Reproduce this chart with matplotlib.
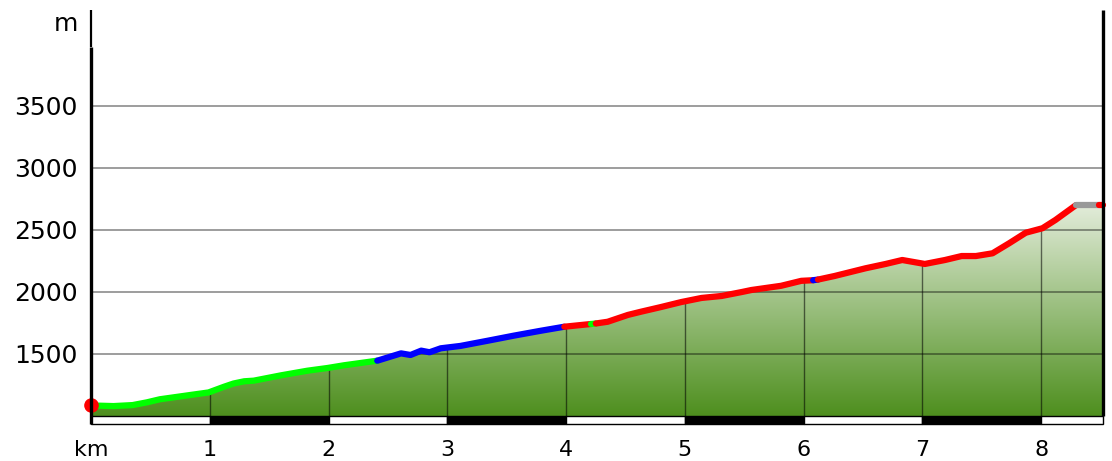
import numpy as np
import matplotlib
matplotlib.use("Agg")
import matplotlib.pyplot as plt
from matplotlib.transforms import blended_transform_factory

# ---- data ----
km = [0, 0.19, 0.35, 0.47, 0.58, 0.84, 0.99, 1.12, 1.20, 1.29, 1.37, 1.60, 1.82, 1.99, 2.13, 2.41,
      2.61, 2.69, 2.78, 2.85, 2.945, 3.11, 3.34, 3.56, 3.79, 3.985,
      4.21, 4.25, 4.35, 4.52, 4.63, 4.80, 4.97, 5.14, 5.31, 5.48, 5.56, 5.81, 5.98, 6.08, 6.12,
      6.26, 6.52, 6.69, 6.83, 7.02, 7.19, 7.33, 7.45, 7.59, 7.73, 7.87, 8.01, 8.12, 8.29, 8.49, 8.52]
elev = [1085, 1080, 1088, 1110, 1135, 1170, 1190, 1236, 1262, 1280, 1285, 1328, 1365, 1387, 1409, 1446,
        1505, 1492, 1527, 1514, 1546, 1565, 1607, 1648, 1688, 1720,
        1742, 1746, 1760, 1815, 1841, 1879, 1919, 1952, 1968, 2000, 2016, 2050, 2090, 2095, 2100,
        2129, 2191, 2226, 2258, 2226, 2258, 2290, 2290, 2312, 2393, 2478, 2514, 2581, 2699, 2699, 2699]
seg_bounds = [0, 2.41, 3.985, 4.21, 4.25, 6.08, 6.12, 8.29, 8.49, 8.52]
seg_colors = ["#00ff00", "#0000ff", "#ff0000", "#00ff00", "#ff0000", "#0000ff", "#ff0000", "#999999", "#ff0000"]
y_ticks = [1500, 2000, 2500, 3000, 3500]
x_ticks = [0, 1, 2, 3, 4, 5, 6, 7, 8]
x_labels = ["km", "1", "2", "3", "4", "5", "6", "7", "8"]
scale_edges = [0, 1, 2, 3, 4, 5, 6, 7, 8, 8.52]

km = np.array(km)
elev = np.array(elev)

XMAX = 8.52
BASE = 1000
YBOT = 935.5
YTOP = 4274

fig = plt.figure(figsize=(11.12, 4.61), dpi=100)
ax = fig.add_axes([91 / 1112, (461 - 424) / 461, (1103 - 91) / 1112, (424 - 10) / 461])
ax.set_xlim(0, XMAX)
ax.set_ylim(YBOT, YTOP)
for s in ax.spines.values():
    s.set_visible(False)

# gradient fill under profile
c_bot = np.array([78, 143, 30]) / 255
c_top = np.array([228, 237, 220]) / 255
t = np.linspace(0, 1, 256)[:, None, None]
grad = c_bot + (c_top - c_bot) * t
grad = np.repeat(grad, 2, axis=1)
poly = ax.fill_between(km, BASE, elev, facecolor="none", edgecolor="none", zorder=1)
im = ax.imshow(grad, extent=[0, XMAX, BASE, 2720], origin="lower", aspect="auto",
               zorder=1, interpolation="bilinear")
im.set_clip_path(poly.get_paths()[0], ax.transData)
ax.set_xlim(0, XMAX)
ax.set_ylim(YBOT, YTOP)

# horizontal gridlines
for yv in y_ticks:
    ax.plot([0, XMAX], [yv, yv], color="black", alpha=0.45, lw=1.2, zorder=2)

# vertical km lines inside profile
for xv in x_ticks[1:]:
    ax.plot([xv, xv], [BASE, np.interp(xv, km, elev)], color="black", alpha=0.55, lw=1.0, zorder=2)

# profile segments
for i, col in enumerate(seg_colors):
    a, b = seg_bounds[i], seg_bounds[i + 1]
    m = (km >= a - 1e-9) & (km <= b + 1e-9)
    ax.plot(km[m], elev[m], color=col, lw=4.5, solid_capstyle="round", solid_joinstyle="round",
            zorder=4, clip_on=False)

# start dot
ax.plot([km[0]], [elev[0]], "o", color="#ff0000", ms=9.5, zorder=5, clip_on=False)

# scale bar
widths = np.diff(scale_edges)
bar_cols = ["white" if i % 2 == 0 else "black" for i in range(len(widths))]
ax.bar(scale_edges[:-1], BASE - YBOT, width=widths, bottom=YBOT, align="edge",
       color=bar_cols, edgecolor="black", lw=1.0, zorder=3, clip_on=False)

# axis lines
ax.plot([0, 0], [YBOT, 3976], color="black", lw=2.4, zorder=6, clip_on=False, solid_capstyle="butt")
ax.plot([0, 0], [3976, YTOP], color="black", lw=1.6, zorder=6, clip_on=False, solid_capstyle="butt")
ax.plot([XMAX, XMAX], [BASE, YTOP], color="black", lw=2.4, zorder=6, clip_on=False, solid_capstyle="butt")

# ticks
fs = 18
ax.set_yticks(y_ticks)
ax.set_yticklabels([str(v) for v in y_ticks], fontsize=fs)
ax.tick_params(axis="y", length=0, pad=9.5)
ax.set_xticks([])
trans = blended_transform_factory(ax.transData, ax.transAxes)
ybase = (424 - 455.5) / 414
for xv, lab in zip(x_ticks, x_labels):
    ax.text(xv, ybase, lab, fontsize=16, ha="center", va="baseline", transform=trans)
ax.text(-13 / 118.75, 4165, "m", fontsize=fs, ha="right", va="center")

fig.savefig("out.png", dpi=100)
